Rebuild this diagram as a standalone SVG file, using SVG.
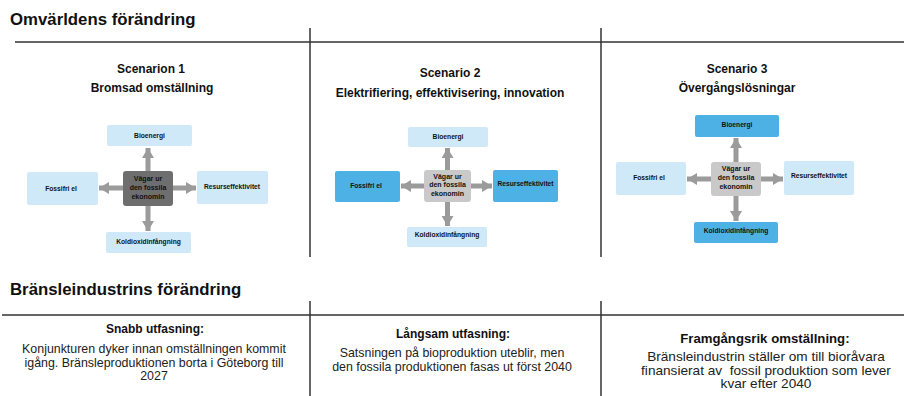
<svg xmlns="http://www.w3.org/2000/svg" width="904" height="396" viewBox="0 0 904 396">
<defs>
<marker id="ah" viewBox="0 0 10 12" refX="10" refY="6" markerWidth="10" markerHeight="12" markerUnits="userSpaceOnUse" orient="auto">
<path d="M0,0 L10,6 L0,12 Z" fill="#9b9b9b"/>
</marker>
<style>
text{font-family:"Liberation Sans",Arial,Helvetica,sans-serif;fill:#111}
.h1{font-size:16.8px;font-weight:bold}
.h2{font-size:12px;font-weight:bold;text-anchor:middle}
.b{font-size:12px;font-weight:bold;text-anchor:middle}
.p{font-size:12.4px;text-anchor:middle;fill:#222}
.n{font-size:6.7px;font-weight:bold;text-anchor:middle}
.c{font-size:7px;font-weight:bold;text-anchor:middle}
.lb{fill:#cfe9f8}
.db{fill:#4eb1e6}
.cd{fill:#6e6e6e}
.cl{fill:#c9c9c9}
.rule{stroke:#333;stroke-width:1.5;fill:none}
.ar{stroke:#9b9b9b;stroke-width:5;fill:none;marker-end:url(#ah)}
</style>
</defs>
<rect width="904" height="396" fill="#fff"/>

<g id="frame">
<line class="rule" x1="15" y1="42" x2="904" y2="42"/>
<line class="rule" x1="310" y1="28" x2="310" y2="257"/>
<line class="rule" x1="601" y1="28" x2="601" y2="257"/>
<line class="rule" x1="2" y1="315" x2="904" y2="315"/>
<line class="rule" x1="310" y1="301" x2="310" y2="396"/>
<line class="rule" x1="601" y1="301" x2="601" y2="396"/>
</g>

<text class="h1" x="10" y="25">Omvärldens förändring</text>
<text class="h1" x="10" y="295">Bränsleindustrins förändring</text>

<text class="h2" x="151" y="73">Scenarion 1</text>
<text class="h2" x="152" y="92">Bromsad omställning</text>
<text class="h2" x="450" y="77">Scenario 2</text>
<text class="h2" x="450" y="97">Elektrifiering, effektivisering, innovation</text>
<text class="h2" x="737" y="73">Scenario 3</text>
<text class="h2" x="737" y="92">Övergångslösningar</text>

<g id="connectors">
<line class="ar" x1="148" y1="185" x2="148" y2="148"/>
<line class="ar" x1="148" y1="188" x2="99" y2="188"/>
<line class="ar" x1="148" y1="188" x2="196" y2="188"/>
<line class="ar" x1="148" y1="190" x2="148" y2="231"/>

<line class="ar" x1="447.5" y1="184" x2="447.5" y2="148"/>
<line class="ar" x1="447.5" y1="186" x2="401" y2="186"/>
<line class="ar" x1="447.5" y1="186" x2="492" y2="186"/>
<line class="ar" x1="447.5" y1="188" x2="447.5" y2="226"/>

<line class="ar" x1="736" y1="177" x2="736" y2="138"/>
<line class="ar" x1="736" y1="179" x2="687" y2="179"/>
<line class="ar" x1="736" y1="179" x2="783" y2="179"/>
<line class="ar" x1="736" y1="181" x2="736" y2="221"/>
</g>

<g id="s1-bio"><rect class="lb" x="107" y="125" width="85" height="21" rx="2"/><text class="n" x="149.5" y="138">Bioenergi</text></g>
<g id="s1-fossil"><rect class="lb" x="27" y="172" width="71" height="33" rx="2"/><text class="n" x="61" y="191">Fossifri el</text></g>
<g id="s1-center"><rect class="cd" x="123" y="171" width="50" height="35" rx="3"/><text class="c" x="148" y="181">Vägar ur</text><text class="c" x="148" y="190">den fossila</text><text class="c" x="148" y="199">ekonomin</text></g>
<g id="s1-res"><rect class="lb" x="197" y="171" width="71" height="33" rx="2"/><text class="n" x="232" y="189">Resurseffektivitet</text></g>
<g id="s1-kol"><rect class="lb" x="106" y="232" width="85" height="21" rx="2"/><text class="n" x="148.5" y="244">Koldioxidinfångning</text></g>

<g id="s2-bio"><rect class="lb" x="408" y="127" width="80" height="20" rx="2"/><text class="n" x="448" y="139">Bioenergi</text></g>
<g id="s2-fossil"><rect class="db" x="335" y="171" width="65" height="31" rx="2"/><text class="n" x="366" y="188">Fossifri el</text></g>
<g id="s2-center"><rect class="cl" x="424" y="170" width="47" height="32" rx="3"/><text class="c" x="447.5" y="178.5">Vägar ur</text><text class="c" x="447.5" y="187">den fossila</text><text class="c" x="447.5" y="195.5">ekonomin</text></g>
<g id="s2-res"><rect class="db" x="493" y="170" width="65" height="32" rx="2"/><text class="n" x="525.5" y="186">Resurseffektivitet</text></g>
<g id="s2-kol"><rect class="lb" x="407" y="227" width="80" height="20" rx="2"/><text class="n" x="447" y="237">Koldioxidinfångning</text></g>

<g id="s3-bio"><rect class="db" x="695" y="115" width="84" height="22" rx="2"/><text class="n" x="737" y="127">Bioenergi</text></g>
<g id="s3-fossil"><rect class="lb" x="616" y="162" width="70" height="33" rx="2"/><text class="n" x="649" y="180">Fossifri el</text></g>
<g id="s3-center"><rect class="cl" x="711" y="162" width="50" height="34" rx="3"/><text class="c" x="736" y="171">Vägar ur</text><text class="c" x="736" y="180">den fossila</text><text class="c" x="736" y="189">ekonomin</text></g>
<g id="s3-res"><rect class="lb" x="784" y="161" width="70" height="34" rx="2"/><text class="n" x="819" y="178">Resurseffektivitet</text></g>
<g id="s3-kol"><rect class="db" x="694" y="222" width="84" height="21" rx="2"/><text class="n" x="736" y="233">Koldioxidinfångning</text></g>

<g id="b1">
<text class="b" x="155" y="333">Snabb utfasning:</text>
<text class="p" x="154" y="353">Konjunkturen dyker innan omställningen kommit</text>
<text class="p" x="154" y="366.5">igång. Bränsleproduktionen borta i Göteborg till</text>
<text class="p" x="154" y="380">2027</text>
</g>
<g id="b2">
<text class="b" x="453" y="338">Långsam utfasning:</text>
<text class="p" x="452" y="357">Satsningen på bioproduktion uteblir, men</text>
<text class="p" x="452" y="371">den fossila produktionen fasas ut först 2040</text>
</g>
<g id="b3" transform="translate(766,0) scale(1.1,1) translate(-766,0)">
<text class="b" x="765" y="343">Framgångsrik omställning:</text>
<text class="p" x="766" y="361">Bränsleindustrin ställer om till bioråvara</text>
<text class="p" x="766" y="375" xml:space="preserve">finansierat av  fossil produktion som lever</text>
<text class="p" x="766" y="388.5">kvar efter 2040</text>
</g>
</svg>
